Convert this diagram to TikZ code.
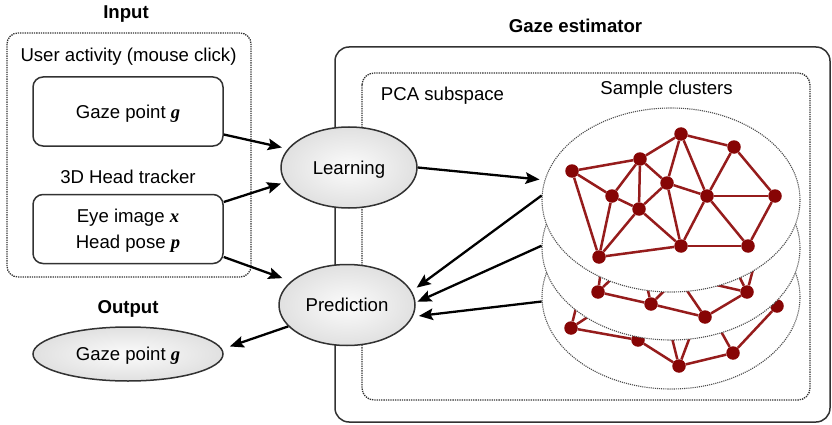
\documentclass[tikz,border=0pt]{standalone}
\usepackage{fontspec}
\setmainfont{Liberation Sans}
\newfontfamily\varfont{Liberation Serif}
\usetikzlibrary{shapes.geometric,arrows.meta}
\definecolor{clusterred}{RGB}{135,5,5}
\definecolor{linkred}{RGB}{150,28,28}
\definecolor{framegray}{RGB}{50,50,50}
\newcommand{\vsym}[1]{{\varfont\bfseries\itshape #1}}

\tikzset{
  dotframe/.style={draw=framegray, densely dotted, line width=1.3pt, rounded corners=11pt},
  solidframe/.style={draw=framegray, line width=1.5pt, rounded corners=14pt},
  sourcebox/.style={draw=framegray, line width=1.5pt, rounded corners=10pt,
    minimum width=190pt, minimum height=69pt, inner sep=0pt, text depth=0pt, align=center},
  procnode/.style={ellipse, draw=framegray, line width=1.5pt, shade,
    inner color=gray!3, outer color=gray!24,
    minimum width=136pt, minimum height=81pt, inner sep=0pt, text depth=0pt},
  cluster/.style={ellipse, draw=gray!60!black, densely dotted, line width=1.1pt, fill=white,
    minimum width=258pt, minimum height=184pt, inner sep=0pt},
  sample/.style={circle, fill=clusterred, inner sep=0pt, minimum size=13.5pt},
  link/.style={draw=linkred, line width=2.5pt},
  flow/.style={-{Stealth[length=14pt,width=11.5pt,inset=2.5pt]}, line width=2.3pt, black},
  caption/.style={anchor=base}
}

\begin{document}
\begin{tikzpicture}[x=1pt, y=-1pt, font=\fontsize{18.6}{25.5}\selectfont]
\useasboundingbox (0,0) rectangle (832,425);

% ---- input side ----
\draw[dotframe] (7,33) rectangle (251,277);
\node[caption] (inputlbl) at (126,19) {\bfseries Input};
\node[caption] (activitylbl) at (128.5,62) {User activity (mouse click)};
\node[sourcebox] (gp) at (128,111.5) {Gaze point \vsym{g}};
\node[caption] (trackerlbl) at (128,183) {3D Head tracker};
\node[sourcebox] (eye) at (128,229) {Eye image \vsym{x}\\Head pose \vsym{p}};

% ---- output side ----
\node[caption] (outputlbl) at (128,313) {\bfseries Output};
\node[procnode, minimum width=190pt, minimum height=54pt] (outp) at (128,354) {Gaze point \vsym{g}};

% ---- estimator frames ----
\draw[solidframe] (335,47) rectangle (830,422);
\node[caption] (estlbl) at (575.5,33) {\bfseries Gaze estimator};
\draw[dotframe, rounded corners=12pt] (362,73) rectangle (810,400);
\node[caption] (pcalbl) at (442.5,101) {PCA subspace};
\node[caption] (clusterlbl) at (666.5,95) {Sample clusters};

% ---- lowest cluster ----
\node[cluster] (botc) at (671,297) {};
\node[sample] (b1) at (571,328) {};
\node[sample] (b2) at (638,340) {};
\node[sample] (b3) at (679,366) {};
\node[sample] (b4) at (733,353) {};
\node[sample] (b5) at (777,306) {};
\coordinate (bh1) at (577,304);
\coordinate (bh2) at (606,305);
\coordinate (bh3) at (669,326);
\coordinate (bh4) at (694,326);
\coordinate (bh5) at (713,317);
\foreach \a/\b in {b1/b2,b2/b3,b3/b4,b4/b5,b1/bh1,b1/bh2,b3/bh3,b3/bh4,b4/bh5}
  \draw[link] (\a) -- (\b);

% ---- middle cluster ----
\node[cluster] (midc) at (671,248) {};
\node[sample] (m1) at (598,292) {};
\node[sample] (m2) at (651,304) {};
\node[sample] (m3) at (705,317) {};
\node[sample] (m4) at (747,292) {};
\coordinate (mh1) at (603,255);
\coordinate (mh2) at (635,256);
\coordinate (mh3) at (643,268);
\coordinate (mh4) at (687,268);
\coordinate (mh5) at (677,276);
\coordinate (mh6) at (735,268);
\coordinate (mh7) at (755,262);
\foreach \a/\b in {m1/m2,m2/m3,m3/m4,m1/mh1,m1/mh2,m2/mh3,m2/mh4,m3/mh5,m4/mh5,m4/mh6,m4/mh7}
  \draw[link] (\a) -- (\b);

% ---- top cluster ----
\node[cluster] (topc) at (671,200) {};
\node[sample] (t1) at (572,171) {};
\node[sample] (t2) at (640,159) {};
\node[sample] (t3) at (681,134) {};
\node[sample] (t4) at (734,147) {};
\node[sample] (t5) at (612,196) {};
\node[sample] (t6) at (667,183) {};
\node[sample] (t7) at (639,209) {};
\node[sample] (t8) at (707,196) {};
\node[sample] (t9) at (775,196) {};
\node[sample] (t10) at (599,257) {};
\node[sample] (t11) at (681,246) {};
\node[sample] (t12) at (748,246) {};
\foreach \a/\b in {t1/t2,t2/t3,t3/t4,t1/t5,t1/t10,t2/t5,t2/t7,t2/t6,t3/t6,t3/t8,
                   t4/t8,t4/t9,t5/t7,t5/t10,t7/t10,t7/t6,t7/t11,t6/t11,t6/t8,t8/t9,
                   t8/t11,t8/t12,t9/t12,t10/t11,t11/t12}
  \draw[link] (\a) -- (\b);

% ---- processing steps ----
\node[procnode] (learn) at (349,167.5) {Learning};
\node[procnode] (pred) at (347,305) {Prediction};

% ---- data flow ----
\draw[flow, shorten >=6pt] ([yshift=-23pt]gp.east) -- (learn.163);
\draw[flow, shorten >=4pt] ([yshift=27pt]eye.east) -- (learn.193);
\draw[flow, shorten >=9pt] ([yshift=-28pt]eye.east) -- (pred.157);
\draw[flow, shorten >=5pt] (learn.east) -- (topc.171);
\draw[flow, shorten >=6pt] (topc.178) -- (pred.12);
\draw[flow, shorten >=2pt] (midc.179) -- (pred.2);
\draw[flow, shorten >=6pt] (botc.182) -- (pred.-10);
\draw[flow, shorten >=8pt] (pred.200) -- (outp.3);
\end{tikzpicture}
\end{document}
